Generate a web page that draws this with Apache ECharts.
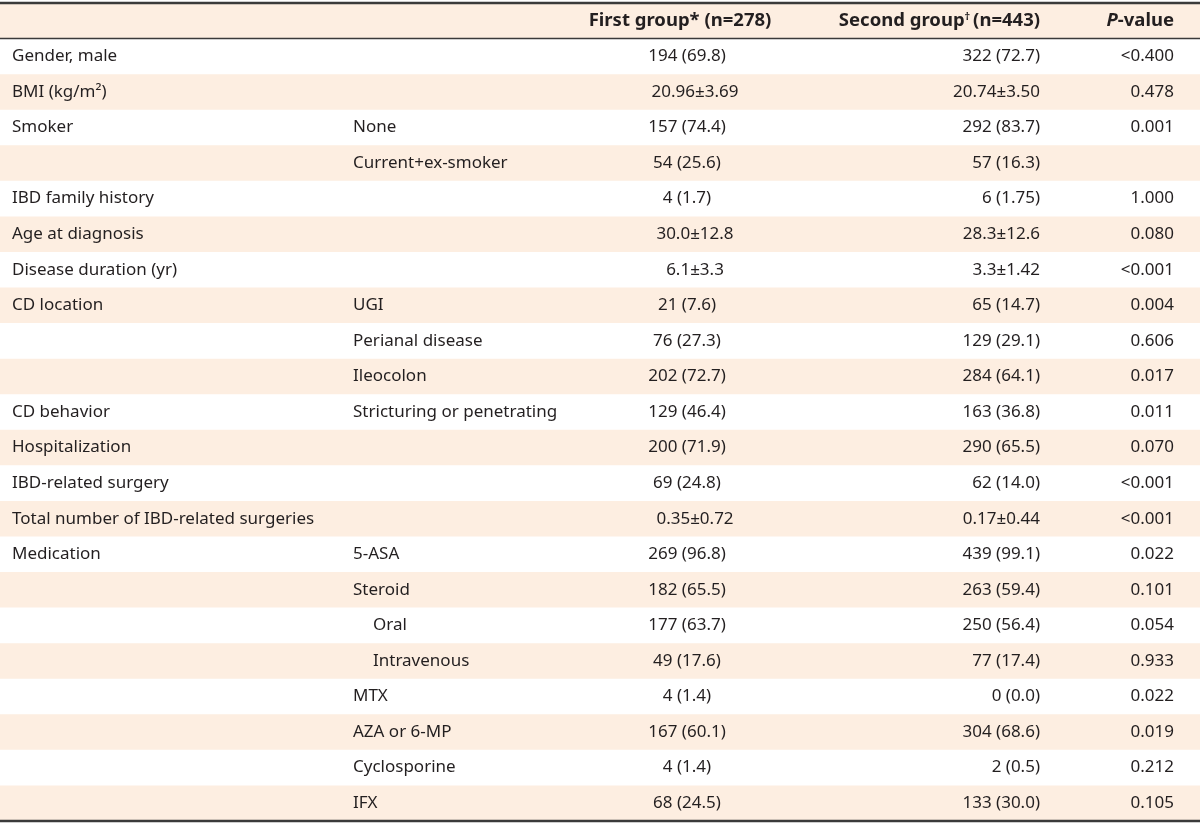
<!DOCTYPE html>
<html><head><meta charset="utf-8">
<script src="https://cdn.jsdelivr.net/npm/echarts@6/dist/echarts.min.js"></script>
<style>html,body{margin:0;padding:0;background:#fff}#c{width:1200px;height:824px}</style>
</head><body><div id="c"></div>
<script>
// ---- Table data ----
var headers = ['', '', 'First group* (n=278)', 'Second group† (n=443)', 'P-value'];
var variables = ['Gender, male', 'BMI (kg/m²)', 'Smoker', '', 'IBD family history', 'Age at diagnosis',
  'Disease duration (yr)', 'CD location', '', '', 'CD behavior', 'Hospitalization', 'IBD-related surgery',
  'Total number of IBD-related surgeries', 'Medication', '', '', '', '', '', '', ''];
var subgroups = ['', '', 'None', 'Current+ex-smoker', '', '', '', 'UGI', 'Perianal disease', 'Ileocolon',
  'Stricturing or penetrating', '', '', '', '5-ASA', 'Steroid', 'Oral', 'Intravenous', 'MTX', 'AZA or 6-MP',
  'Cyclosporine', 'IFX'];
var subIndent = [0,0,0,0,0,0,0,0,0,0,0,0,0,0,0,0,1,1,0,0,0,0];
var firstGroup = ['194 (69.8)', '20.96±3.69', '157 (74.4)', '54 (25.6)', '4 (1.7)', '30.0±12.8', '6.1±3.3',
  '21 (7.6)', '76 (27.3)', '202 (72.7)', '129 (46.4)', '200 (71.9)', '69 (24.8)', '0.35±0.72', '269 (96.8)',
  '182 (65.5)', '177 (63.7)', '49 (17.6)', '4 (1.4)', '167 (60.1)', '4 (1.4)', '68 (24.5)'];
var secondGroup = ['322 (72.7)', '20.74±3.50', '292 (83.7)', '57 (16.3)', '6 (1.75)', '28.3±12.6', '3.3±1.42',
  '65 (14.7)', '129 (29.1)', '284 (64.1)', '163 (36.8)', '290 (65.5)', '62 (14.0)', '0.17±0.44', '439 (99.1)',
  '263 (59.4)', '250 (56.4)', '77 (17.4)', '0 (0.0)', '304 (68.6)', '2 (0.5)', '133 (30.0)'];
var pValues = ['<0.400', '0.478', '0.001', '', '1.000', '0.080', '<0.001', '0.004', '0.606', '0.017', '0.011',
  '0.070', '<0.001', '<0.001', '0.022', '0.101', '0.054', '0.933', '0.022', '0.019', '0.212', '0.105'];

// ---- Build ----
var nRows = variables.length + 1; // header + data
var rowCats = [];
for (var i = 0; i < nRows; i++) rowCats.push('r' + i);
var seriesData = rowCats.map(function (c, i) { return [0, i]; });

var FONT = '"Noto Sans", sans-serif';
var FS = 17;
var HFS = 18.5;
var SHADE = '#fdeee1';
var TXT = '#231f20';
var RULE = '#3a3a3a';

// column anchors in x-axis units (0..1200)
var X_VAR = 12, X_SUB = 353, X_FIRST = 687, X_FIRST_PM = 695, X_FIRST_HEAD = 680, X_SECOND = 1040, X_P = 1174;

function textEl(x, y, str, align, rich) {
  var st = { x: x, y: y, text: str, fill: TXT, font: FS + 'px ' + FONT,
    textAlign: align, textVerticalAlign: 'middle' };
  if (rich) st.rich = rich;
  return { type: 'text', style: st, silent: true };
}

function renderItem(params, api) {
  var i = api.value(1);
  var cy = api.coord([0, i])[1];
  var h = api.size([0, 1])[1];
  var x0 = api.coord([0, i])[0];
  var x1 = api.coord([1200, i])[0];
  var top = cy - h / 2, bot = cy + h / 2;
  var kids = [];
  var shaded = (i % 2 === 0);
  if (shaded) {
    kids.push({ type: 'rect', shape: { x: x0, y: top, width: x1 - x0, height: h }, style: { fill: SHADE }, silent: true });
  }
  function X(v) { return api.coord([v, i])[0]; }
  if (i === 0) {
    var hr = {
      b: { font: 'bold ' + HFS + 'px ' + FONT, fill: TXT },
      s: { font: 'bold 11px ' + FONT, fill: TXT, verticalAlign: 'top', padding: [0, 0, 8, 0] },
      it: { font: 'italic bold ' + HFS + 'px ' + FONT, fill: TXT }
    };
    kids.push(textEl(X(X_FIRST_HEAD), cy, '{b|' + headers[2] + '}', 'center', hr));
    var sg = headers[3].split('†');
    kids.push(textEl(X(X_SECOND), cy, '{b|' + sg[0] + '}{s|† }{b|' + sg[1].replace(/^ /, '') + '}', 'right', hr));
    var pv = headers[4].split('-');
    kids.push(textEl(X(X_P), cy, '{it|' + pv[0] + '}{b|-' + pv[1] + '}', 'right', hr));
    kids.push({ type: 'line', shape: { x1: x0, y1: top, x2: x1, y2: top }, style: { stroke: RULE, lineWidth: 2.5 }, silent: true });
    kids.push({ type: 'line', shape: { x1: x0, y1: bot, x2: x1, y2: bot }, style: { stroke: RULE, lineWidth: 1.6 }, silent: true });
  } else {
    var k = i - 1;
    if (variables[k]) kids.push(textEl(X(X_VAR), cy, variables[k], 'left'));
    if (subgroups[k]) kids.push(textEl(X(X_SUB + subIndent[k] * 20), cy, subgroups[k], 'left'));
    var fx = firstGroup[k].indexOf('±') >= 0 ? X_FIRST_PM : X_FIRST;
    kids.push(textEl(X(fx), cy, firstGroup[k], 'center'));
    kids.push(textEl(X(X_SECOND), cy, secondGroup[k], 'right'));
    if (pValues[k]) kids.push(textEl(X(X_P), cy, pValues[k], 'right'));
    if (i === nRows - 1) {
      kids.push({ type: 'line', shape: { x1: x0, y1: bot, x2: x1, y2: bot }, style: { stroke: RULE, lineWidth: 2.5 }, silent: true });
    }
  }
  return { type: 'group', children: kids };
}

var chart = echarts.init(document.getElementById('c'), null, { renderer: 'canvas' });
chart.setOption({
  animation: false,
  grid: { left: 0, right: 0, top: 3, bottom: 3 },
  xAxis: { type: 'value', min: 0, max: 1200, show: false },
  yAxis: { type: 'category', data: rowCats, inverse: true, show: false },
  series: [{ type: 'custom', renderItem: renderItem, data: seriesData, clip: false }]
});
</script></body></html>
